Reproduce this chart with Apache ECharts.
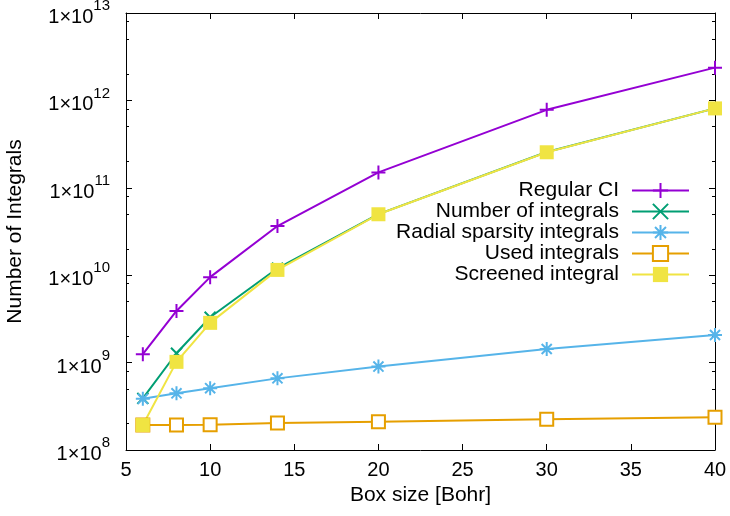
<!DOCTYPE html>
<html>
<head>
<meta charset="utf-8">
<script src="https://cdn.jsdelivr.net/npm/echarts@6/dist/echarts.min.js"></script>
<style>
  html, body { margin: 0; padding: 0; background: #fff; }
  #chart { width: 730px; height: 516px; }
</style>
</head>
<body>
<div id="chart"></div>
<script>
// Box sizes (Bohr)
const boxSizes = [6, 8, 10, 14, 20, 30, 40];

// Integral counts per box size
const regularCI        = [1.25e9, 3.9e9, 9.5e9, 3.65e10, 1.5e11, 7.8e11, 2.37e12];
const numberOfIntegrals = [3.9e8, 1.28e9, 3.3e9, 1.2e10, 5.0e10, 2.57e11, 8.1e11];
const radialSparsity   = [3.85e8, 4.45e8, 5.1e8, 6.6e8, 9.0e8, 1.43e9, 2.07e9];
const usedIntegrals    = [1.93e8, 1.93e8, 1.94e8, 2.04e8, 2.11e8, 2.25e8, 2.37e8];
const screenedIntegral = [1.93e8, 1.02e9, 2.85e9, 1.15e10, 4.98e10, 2.55e11, 8.1e11];

const seriesNames = ['Regular CI', 'Number of integrals', 'Radial sparsity integrals', 'Used integrals', 'Screened integral'];

// Axis ranges
const yMin = 1e8, yMax = 1e13;
const xMin = 5, xMax = 40, xStep = 5;
// Minor tick mantissas inside each decade
const minorMantissas = [2, 5, 8];

const FONT = '"Liberation Sans", Arial, Helvetica, sans-serif';

const minorTickLogs = [];
for (let e = Math.log10(yMin); e < Math.log10(yMax); e++) {
  minorMantissas.forEach(m => minorTickLogs.push(Math.log10(m) + e));
}

const pts = arr => boxSizes.map((x, i) => [x, arr[i]]);

// Marker shapes
const PLUS = 'path://M0,-1L0,1M-1,0L1,0';
const CROSS = 'path://M-1,-1L1,1M-1,1L1,-1';
const STAR = 'path://M0,-1L0,1M-1,0L1,0M-0.72,-0.72L0.72,0.72M-0.72,0.72L0.72,-0.72';

function lineSeries(name, data, color, symbol, size, extra) {
  return Object.assign({
    name: name,
    type: 'line',
    data: pts(data),
    xAxisIndex: 0,
    yAxisIndex: 0,
    color: color,
    symbol: symbol,
    symbolSize: size,
    showAllSymbol: true,
    lineStyle: { color: color, width: 2 },
    itemStyle: { color: color, borderColor: color, borderWidth: 2 },
    emphasis: { disabled: true },
    animation: false
  }, extra || {});
}

const chart = echarts.init(document.getElementById('chart'), null, { renderer: 'canvas' });

const supLabel = v => {
  const e = Math.round(Math.log10(v));
  return '{b|1×10}{s|' + e + '}';
};

chart.setOption({
  backgroundColor: '#fff',
  animation: false,
  textStyle: { fontFamily: FONT },
  grid: { left: 126, right: 15, top: 13, bottom: 66, containLabel: false, outerBoundsMode: 'none' },
  legend: {
    data: seriesNames,
    orient: 'vertical',
    align: 'right',
    right: 40,
    top: 180,
    padding: 0,
    itemWidth: 57,
    itemHeight: 19,
    itemGap: 0,
    selectedMode: false,
    textStyle: { fontFamily: FONT, fontSize: 21, color: '#000', padding: [0, 8, 0, 0], lineHeight: 21 }
  },
  xAxis: [
    {
      type: 'value', position: 'bottom', min: xMin, max: xMax, interval: xStep,
      name: 'Box size [Bohr]', nameLocation: 'middle', nameGap: 35,
      nameTextStyle: { fontFamily: FONT, fontSize: 21, color: '#000' },
      axisLine: { show: true, onZero: false, lineStyle: { color: '#000', width: 1 } },
      axisTick: { inside: true, length: 6, lineStyle: { color: '#000' } },
      axisLabel: { fontFamily: FONT, fontSize: 20, color: '#000', margin: 10 },
      splitLine: { show: false }
    },
    {
      type: 'value', position: 'top', min: xMin, max: xMax, interval: xStep,
      axisLine: { show: true, onZero: false, lineStyle: { color: '#000', width: 1 } },
      axisTick: { inside: true, length: 6, lineStyle: { color: '#000' } },
      axisLabel: { show: false },
      splitLine: { show: false }
    }
  ],
  yAxis: [
    {
      type: 'log', logBase: 10, position: 'left', min: yMin, max: yMax, splitNumber: 5,
      name: 'Number of Integrals', nameLocation: 'middle', nameGap: 100, nameRotate: 90,
      nameTextStyle: { fontFamily: FONT, fontSize: 21, color: '#000' },
      axisLine: { show: true, onZero: false, lineStyle: { color: '#000', width: 1 } },
      axisTick: { inside: true, length: 6, lineStyle: { color: '#000' } },
      axisLabel: {
        margin: 16,
        formatter: supLabel,
        rich: {
          b: { fontFamily: FONT, fontSize: 20, color: '#000', lineHeight: 29, verticalAlign: 'bottom' },
          s: { fontFamily: FONT, fontSize: 15, color: '#000', lineHeight: 15, verticalAlign: 'top' }
        }
      },
      splitLine: { show: false }
    },
    {
      type: 'log', logBase: 10, position: 'right', min: yMin, max: yMax, splitNumber: 5,
      axisLine: { show: true, onZero: false, lineStyle: { color: '#000', width: 1 } },
      axisTick: { inside: true, length: 6, lineStyle: { color: '#000' } },
      axisLabel: { show: false },
      splitLine: { show: false }
    },
    {
      type: 'value', position: 'left', min: Math.log10(yMin), max: Math.log10(yMax),
      axisLine: { show: false },
      axisTick: { show: true, inside: true, length: 3, customValues: minorTickLogs, lineStyle: { color: '#000' } },
      axisLabel: { show: false },
      splitLine: { show: false }
    },
    {
      type: 'value', position: 'right', min: Math.log10(yMin), max: Math.log10(yMax),
      axisLine: { show: false },
      axisTick: { show: true, inside: true, length: 3, customValues: minorTickLogs, lineStyle: { color: '#000' } },
      axisLabel: { show: false },
      splitLine: { show: false }
    }
  ],
  series: [
    lineSeries(seriesNames[0], regularCI, '#9400d3', PLUS, 14),
    lineSeries(seriesNames[1], numberOfIntegrals, '#009e73', CROSS, 11),
    lineSeries(seriesNames[2], radialSparsity, '#56b4e9', STAR, 14),
    lineSeries(seriesNames[3], usedIntegrals, '#e69f00', 'emptyRect', 13),
    lineSeries(seriesNames[4], screenedIntegral, '#f0e442', 'rect', 14, {
      itemStyle: { color: '#f0e442', borderWidth: 0 }
    })
  ]
});
</script>
</body>
</html>
